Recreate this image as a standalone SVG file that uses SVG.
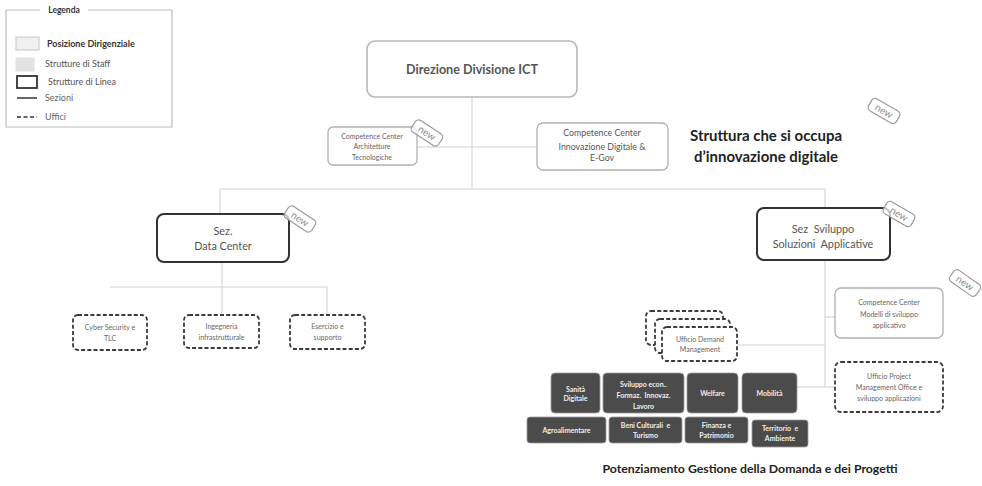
<svg xmlns="http://www.w3.org/2000/svg" width="982" height="486" viewBox="0 0 982 486">
<style>
text{font-family:Lato,"Liberation Sans","DejaVu Sans",sans-serif;text-anchor:middle}
.conn line{stroke:#d2d2d2;stroke-width:1.1}
.dir{fill:#fff;stroke:#b8b8b8;stroke-width:1.6}
.staff{fill:#fff;stroke:#b0b0b0;stroke-width:1.3}
.linea{fill:#fff;stroke:#333;stroke-width:2}
.uff{fill:#fff;stroke:#3a3a3a;stroke-width:1.8;stroke-dasharray:4 2.2}
.dark{fill:#4b4b4b;stroke:#9a9a9a;stroke-width:0.8}
.dk{fill:#eee;font-size:7px;font-weight:bold}
.sm{fill:#666;font-size:7px}
.md{fill:#555;font-size:10.8px}
.tag rect{fill:#fff;fill-opacity:0.7;stroke:#9a9a9a;stroke-width:1.2}
.tag text{fill:#8a8a8a;font-size:10px}
.lg{fill:#333;font-size:9px;text-anchor:start}
</style>
<rect width="982" height="486" fill="#fff"/>

<g id="legenda">
  <path d="M40 10 H6 V127 H172 V10 H88" fill="none" stroke="#bdbdbd" stroke-width="1.2"/>
  <text x="64" y="13" style="font-size:8.5px;fill:#333;font-weight:bold">Legenda</text>
  <rect x="16" y="37" width="23" height="13" fill="#f0f0f0" stroke="#cfcfcf" stroke-width="1.2"/>
  <text class="lg" x="47" y="47" style="font-weight:bold">Posizione Dirigenziale</text>
  <rect x="16" y="58" width="18" height="13" fill="#e2e2e2" stroke="#e0e0e0" stroke-width="1"/>
  <text class="lg" x="45" y="67" style="fill:#555">Strutture di Staff</text>
  <rect x="17" y="76" width="20" height="12" fill="#fff" stroke="#333" stroke-width="1.8"/>
  <text class="lg" x="48" y="85" style="fill:#555">Strutture di Linea</text>
  <line x1="17" y1="98" x2="37" y2="98" stroke="#333" stroke-width="1.5"/>
  <text class="lg" x="45" y="101" style="fill:#666">Sezioni</text>
  <line x1="17" y1="117" x2="37" y2="117" stroke="#333" stroke-width="1.6" stroke-dasharray="4 2.5"/>
  <text class="lg" x="45" y="120" style="fill:#666">Uffici</text>
</g>

<g id="connectors" class="conn">
  <line x1="472" y1="97" x2="472" y2="189"/>
  <line x1="417" y1="147" x2="537" y2="147"/>
  <line x1="220" y1="189" x2="825" y2="189"/>
  <line x1="220" y1="189" x2="220" y2="214"/>
  <line x1="825" y1="189" x2="825" y2="208"/>
  <line x1="222" y1="262" x2="222" y2="315"/>
  <line x1="110" y1="287" x2="327" y2="287"/>
  <line x1="327" y1="287" x2="327" y2="315"/>
  <line x1="825" y1="260" x2="825" y2="387"/>
  <line x1="825" y1="317" x2="835" y2="317"/>
  <line x1="737" y1="345" x2="825" y2="345"/>
  <line x1="797" y1="387" x2="835" y2="387"/>
</g>

<g id="direzione">
  <rect class="dir" x="367" y="41" width="210" height="56" rx="8"/>
  <text x="472" y="74" style="font-size:13.5px;font-weight:bold;fill:#555" textLength="132" lengthAdjust="spacingAndGlyphs">Direzione Divisione ICT</text>
</g>

<g id="cc-architetture">
  <rect class="staff" x="328" y="127" width="89" height="38" rx="5"/>
  <text class="sm" x="372" y="138.5">Competence Center</text>
  <text class="sm" x="372" y="149">Architetture</text>
  <text class="sm" x="372" y="159.5">Tecnologiche</text>
</g>

<g id="cc-innovazione">
  <rect class="staff" x="537" y="123" width="131" height="47" rx="6"/>
  <text x="602" y="136" style="font-size:8.8px;fill:#555">Competence Center</text>
  <text x="602" y="149.5" style="font-size:8.8px;fill:#555">Innovazione Digitale &amp;</text>
  <text x="602" y="161" style="font-size:8.8px;fill:#555">E-Gov</text>
</g>

<g id="nota-innovazione">
  <text x="766" y="141" style="font-size:15px;font-weight:bold;fill:#222" textLength="152" lengthAdjust="spacingAndGlyphs">Struttura che si occupa</text>
  <text x="766" y="162" style="font-size:15px;font-weight:bold;fill:#222" textLength="144" lengthAdjust="spacingAndGlyphs">d’innovazione digitale</text>
</g>

<g id="sez-data-center">
  <rect class="linea" x="157" y="214" width="132" height="48" rx="7"/>
  <text class="md" x="223" y="235">Sez.</text>
  <text class="md" x="223" y="250">Data Center</text>
</g>

<g id="sez-sviluppo">
  <rect class="linea" x="757" y="208" width="133" height="52" rx="7"/>
  <text class="md" x="823" y="233" xml:space="preserve">Sez  Sviluppo</text>
  <text class="md" x="823" y="248" xml:space="preserve">Soluzioni  Applicative</text>
</g>

<g id="uff-cyber">
  <rect class="uff" x="73" y="315" width="74" height="35" rx="5"/>
  <text class="sm" x="110" y="330">Cyber Security e</text>
  <text class="sm" x="110" y="341">TLC</text>
</g>
<g id="uff-ingegneria">
  <rect class="uff" x="184" y="315" width="75" height="33" rx="5"/>
  <text class="sm" x="221.5" y="329">Ingegneria</text>
  <text class="sm" x="221.5" y="340">infrastrutturale</text>
</g>
<g id="uff-esercizio">
  <rect class="uff" x="290" y="315" width="75" height="34" rx="5"/>
  <text class="sm" x="327.5" y="329">Esercizio e</text>
  <text class="sm" x="327.5" y="340">supporto</text>
</g>

<g id="cc-modelli">
  <rect class="staff" x="835" y="288" width="108" height="50" rx="6"/>
  <text class="sm" x="889" y="305">Competence Center</text>
  <text class="sm" x="889" y="317">Modelli di sviluppo</text>
  <text class="sm" x="889" y="328">applicativo</text>
</g>

<g id="uff-pmo">
  <rect class="uff" x="835" y="362" width="108" height="50" rx="6"/>
  <text class="sm" x="889" y="379">Ufficio Project</text>
  <text class="sm" x="889" y="390">Management Office e</text>
  <text class="sm" x="889" y="401">sviluppo applicazioni</text>
</g>

<g id="uff-demand">
  <rect class="uff" x="646" y="311" width="77" height="34" rx="5"/>
  <rect class="uff" x="655" y="319" width="75" height="34" rx="5"/>
  <rect class="uff" x="662" y="327" width="75" height="34" rx="5"/>
  <text class="sm" x="700" y="342">Ufficio Demand</text>
  <text class="sm" x="700" y="352">Management</text>
</g>

<g id="sanita">
  <rect class="dark" x="551" y="373" width="49" height="40" rx="4"/>
  <text class="dk" x="575.5" y="392">Sanità</text>
  <text class="dk" x="575.5" y="401">Digitale</text>
</g>
<g id="sviluppo-econ">
  <rect class="dark" x="603" y="373" width="81" height="40" rx="4"/>
  <text class="dk" x="643.5" y="387">Sviluppo econ..</text>
  <text class="dk" x="643.5" y="398" xml:space="preserve">Formaz.  Innovaz.</text>
  <text class="dk" x="643.5" y="409">Lavoro</text>
</g>
<g id="welfare">
  <rect class="dark" x="687" y="373" width="51" height="40" rx="4"/>
  <text class="dk" x="712.5" y="396">Welfare</text>
</g>
<g id="mobilita">
  <rect class="dark" x="742" y="373" width="55" height="40" rx="4"/>
  <text class="dk" x="769.5" y="396">Mobilità</text>
</g>
<g id="agroalimentare">
  <rect class="dark" x="527" y="417" width="79" height="26" rx="3"/>
  <text class="dk" x="566.5" y="433">Agroalimentare</text>
</g>
<g id="beni-culturali">
  <rect class="dark" x="609" y="417" width="73" height="26" rx="3"/>
  <text class="dk" x="645.5" y="428" xml:space="preserve">Beni Culturali  e</text>
  <text class="dk" x="645.5" y="438">Turismo</text>
</g>
<g id="finanza">
  <rect class="dark" x="685" y="417" width="63" height="26" rx="3"/>
  <text class="dk" x="716.5" y="428">Finanza e</text>
  <text class="dk" x="716.5" y="438">Patrimonio</text>
</g>
<g id="territorio">
  <rect class="dark" x="752" y="420" width="56" height="27" rx="3"/>
  <text class="dk" x="780" y="431" xml:space="preserve">Territorio  e</text>
  <text class="dk" x="780" y="441">Ambiente</text>
</g>

<g id="titolo-potenziamento">
  <text x="750" y="473" style="font-size:10.5px;font-weight:bold;fill:#222" textLength="295" lengthAdjust="spacingAndGlyphs">Potenziamento Gestione della Domanda e dei Progetti</text>
</g>

<g id="new-tags">
  <g class="tag" transform="translate(427 133) rotate(33)"><rect x="-16" y="-7" width="32" height="14" rx="4"/><text y="3.5">new</text></g>
  <g class="tag" transform="translate(300 219) rotate(33)"><rect x="-16" y="-7" width="32" height="14" rx="4"/><text y="3.5">new</text></g>
  <g class="tag" transform="translate(884 111) rotate(30)"><rect x="-16" y="-7" width="32" height="14" rx="4"/><text y="3.5">new</text></g>
  <g class="tag" transform="translate(899 214) rotate(30)"><rect x="-16" y="-7" width="32" height="14" rx="4"/><text y="3.5">new</text></g>
  <g class="tag" transform="translate(965 283) rotate(35)"><rect x="-16" y="-7" width="32" height="14" rx="4"/><text y="3.5">new</text></g>
</g>
</svg>
